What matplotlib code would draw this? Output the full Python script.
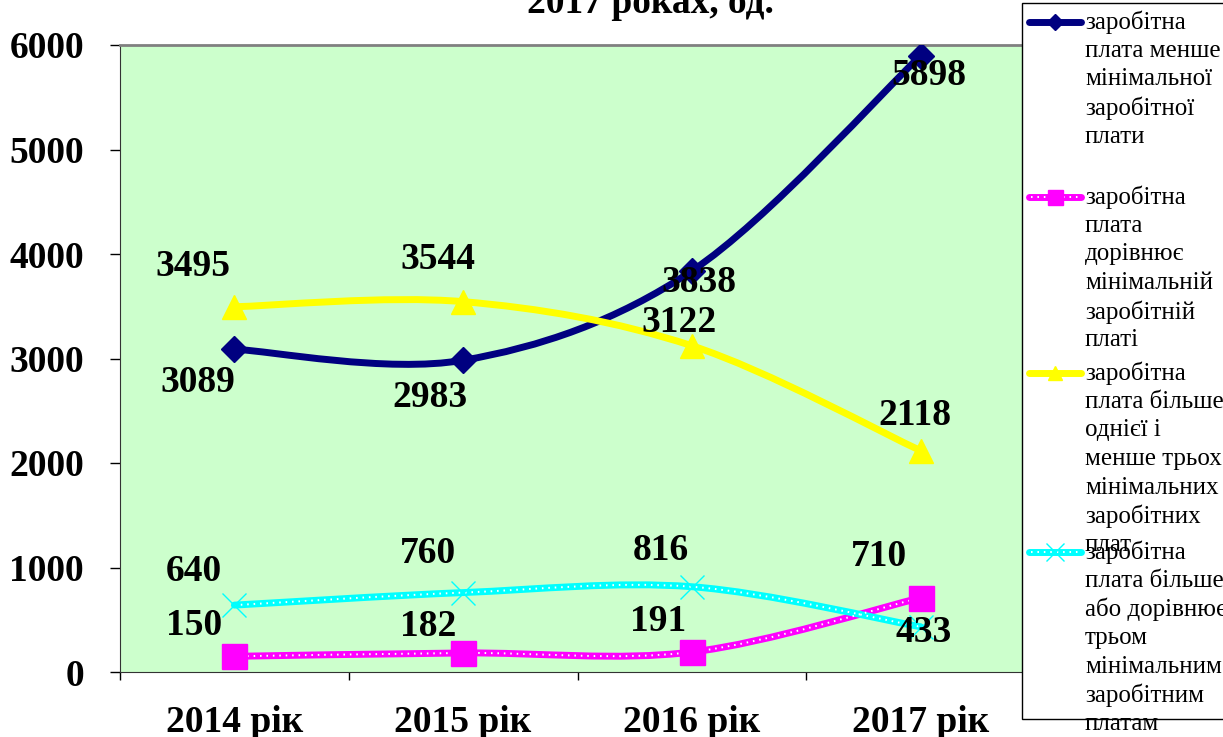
import matplotlib
matplotlib.use("Agg")
import matplotlib.pyplot as plt
from matplotlib.path import Path
from matplotlib.patches import PathPatch, Rectangle
from matplotlib.lines import Line2D
import numpy as np

plt.rcParams['font.family'] = ['Liberation Serif', 'DejaVu Serif']

# Дані
years = ['2014 рік', '2015 рік', '2016 рік', '2017 рік']
less_min = [3089, 2983, 3838, 5898]
equal_min = [150, 182, 191, 710]
one_to_three = [3495, 3544, 3122, 2118]
three_plus = [640, 760, 816, 433]

names = [
    ['заробітна', 'плата менше', 'мінімальної', 'заробітної', 'плати'],
    ['заробітна', 'плата', 'дорівнює', 'мінімальній', 'заробітній', 'платі'],
    ['заробітна', 'плата більше', 'однієї і', 'менше трьох', 'мінімальних', 'заробітних', 'плат'],
    ['заробітна', 'плата більше', 'або дорівнює', 'трьом', 'мінімальним', 'заробітним', 'платам'],
]

# зміщення підписів (pt)
off_less = [(-26, -24), (-24, -27), (5, -8), (6, -14)]
off_equal = [(-29, 22), (-25, 19), (-24, 22), (-30, 30)]
off_one = [(-30, 29), (-18, 30), (-9, 17), (-4, 25)]
off_three = [(-29, 24), (-25, 28), (-22, 26), (2, -4)]


def smooth_path(xs, ys):
    # згладжування як в Excel (Catmull-Rom -> Bezier)
    pts = np.column_stack([xs, ys]).astype(float)
    ext = np.vstack([pts[0], pts, pts[-1]])
    verts = [pts[0]]
    codes = [Path.MOVETO]
    for i in range(1, len(ext) - 2):
        p0, p1, p2, p3 = ext[i - 1], ext[i], ext[i + 1], ext[i + 2]
        verts += [p1 + (p2 - p0) / 6, p2 - (p3 - p1) / 6, p2]
        codes += [Path.CURVE4] * 3
    return Path(verts, codes)


W, H = 1223, 737
fig = plt.figure(figsize=(12.23, 7.37), dpi=100)
ax = fig.add_axes([120 / W, 1 - 672 / H, 915 / W, 627 / H])
ax.set_facecolor('#CCFFCC')

x = np.arange(len(years))

series = [
    (less_min, '#000080', 'D', 13, False, off_less),
    (equal_min, '#FF00FF', 's', 18, True, off_equal),
    (one_to_three, '#FFFF00', '^', 17, False, off_one),
    (three_plus, '#00FFFF', 'x', 17, True, off_three),
]

for vals, col, mk, ms, dotted, offs in series:
    p = smooth_path(x, vals)
    ax.add_patch(PathPatch(p, fill=False, edgecolor=col, lw=5, capstyle='round', zorder=3))
    if dotted:
        ax.add_patch(PathPatch(p, fill=False, edgecolor='white', lw=1.4,
                               linestyle=(0, (0.8, 2.5)), zorder=4))
    if mk == 'x':
        ax.plot(x, vals, linestyle='none', marker=mk, ms=ms, mew=1, color=col, zorder=5)
    else:
        ax.plot(x, vals, linestyle='none', marker=mk, ms=ms, mec=col, mfc=col, zorder=5)
    for xi, v, o in zip(x, vals, offs):
        ax.annotate(str(v), (xi, v), xytext=o, textcoords='offset points',
                    ha='center', va='center', fontsize=27, fontweight='bold', zorder=6)

ax.set_xlim(-0.5, 3.5)
ax.set_ylim(0, 6000)
ax.set_yticks(range(0, 6001, 1000))
ax.set_xticks(x)
ax.set_xticklabels(years)
ax.set_xticks(np.arange(-0.5, 4, 1), minor=True)
ax.tick_params(axis='x', which='major', length=0, pad=24, labelsize=27)
ax.tick_params(axis='x', which='minor', length=6, width=1, direction='out')
ax.tick_params(axis='y', length=7, width=1, pad=19, labelsize=27)
for lab in ax.get_xticklabels() + ax.get_yticklabels():
    lab.set_fontweight('bold')

ax.spines['top'].set_color('#808080')
ax.spines['top'].set_linewidth(2)
ax.spines['right'].set_color('#808080')
ax.spines['left'].set_color('#333333')
ax.spines['bottom'].set_color('#333333')

fig.text(650 / W, 1 - 13 / H, '2017 роках, од.', ha='center', va='baseline',
         fontsize=27, fontweight='bold')

# легенда вручну
fig.patches.append(Rectangle((1022 / W, 1 - 719 / H), 260 / W, 716 / H,
                             transform=fig.transFigure, facecolor='white',
                             edgecolor='black', lw=1, zorder=10))
starts = [22, 197, 373, 552]
step = 28.7
for (vals, col, mk, ms, dotted, offs), lines, y0 in zip(series, names, starts):
    yy = 1 - y0 / H
    fig.add_artist(Line2D([1029 / W, 1081 / W], [yy, yy], color=col, lw=5,
                          solid_capstyle='round', zorder=11))
    if dotted:
        fig.add_artist(Line2D([1031 / W, 1079 / W], [yy, yy], color='white', lw=1.4,
                              linestyle=(0, (0.8, 2.5)), zorder=12))
    if mk == 'x':
        fig.add_artist(Line2D([1055 / W], [yy], marker=mk, ms=ms * 0.8, mew=1,
                              color=col, zorder=13))
    else:
        fig.add_artist(Line2D([1055 / W], [yy], marker=mk, ms=ms * 0.6, mec=col,
                              mfc=col, zorder=13))
    for i, t in enumerate(lines):
        fig.text(1085 / W, 1 - (y0 + i * step) / H, t, ha='left', va='center',
                 fontsize=18, zorder=14)

fig.savefig('out.png', dpi=100)
